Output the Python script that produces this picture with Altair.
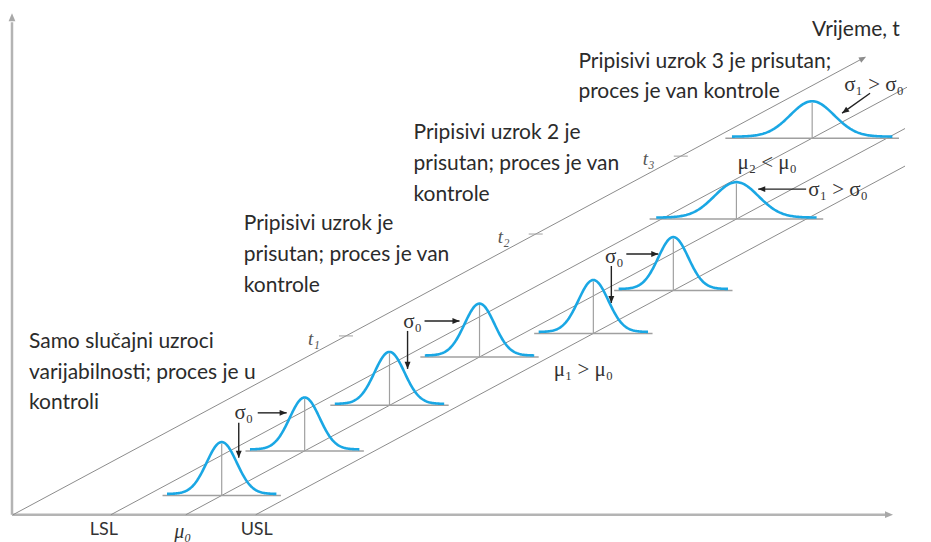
import altair as alt
import numpy as np
import pandas as pd

# ---------------- oblique "time" diagram geometry ----------------
BASE_Y = 515          # horizontal (quality) axis level
SLOPE = 0.537         # rise of the time direction per unit of x

# process levels on the quality axis (origin, LSL, mu0, USL)
level_names = ["", "LSL", "μ₀", "USL"]
level_x = [12, 110, 185, 255]
level_end_x = [865, 907, 905, 905]

# distributions along time: level, time (rise), sigma
curve_level = [185, 185, 185, 185, 255, 255, 185, 110]
curve_time = [19.3, 63.9, 109.5, 157.9, 181.5, 224.5, 296.0, 377.0]
curve_sigma = [15, 15, 15, 15, 15, 15, 22, 22]
AREA = 780

# time instants t1, t2, t3 (rise along time axis)
t_names = ["t₁", "t₂", "t₃"]
t_rise = [179, 281, 359]

# annotation texts
block_text = [
    "Vrijeme, t",
    "Pripisivi uzrok 3 je prisutan;", "proces je van kontrole",
    "Pripisivi uzrok 2 je", "prisutan; proces je van", "kontrole",
    "Pripisivi uzrok je", "prisutan; proces je van", "kontrole",
    "Samo slučajni uzroci", "varijabilnosti; proces je u", "kontroli",
]
block_x = [812, 578, 578, 413, 413, 413, 243, 243, 243, 28, 28, 28]
block_y = [30, 62, 92, 133, 164, 195, 224, 255, 286, 342, 373, 403]

greek_text = ["σ₁ > σ₀", "μ₂ < μ₀", "σ₁ > σ₀", "μ₁ > μ₀", "σ₀", "σ₀", "σ₀"]
greek_x = [874, 767, 838, 583, 243, 412, 614]
greek_y = [85, 163, 190, 370, 413, 322, 257]

# arrows: tail -> tip
arrow_x1 = [257, 238, 424, 407, 626, 611, 870, 806]
arrow_y1 = [413, 423, 321, 331, 254, 266, 93, 189]
arrow_x2 = [286, 238, 459, 407, 658, 611, 842, 758]
arrow_y2 = [413, 458, 321, 369, 254, 303, 113, 189]

# ---------------- helpers ----------------
W, H = 915, 526
xs = alt.Scale(domain=[8, 8 + W], nice=False, zero=False)
ys = alt.Scale(domain=[8, 8 + H], nice=False, zero=False, reverse=True)
X = lambda f="x": alt.X(f"{f}:Q", scale=xs, axis=None)
Y = lambda f="y": alt.Y(f"{f}:Q", scale=ys, axis=None)
HEAD = "M0,0L-1,-0.42L-1,0.42Z"


def to_xy(level, rise):
    return level + rise / SLOPE, BASE_Y - rise


def rules(df, color, width):
    return alt.Chart(df).mark_rule(color=color, strokeWidth=width, strokeCap="butt").encode(
        x=X(), y=Y(), x2="x2:Q", y2="y2:Q")


def heads(df, color, size):
    return alt.Chart(df).mark_point(shape=HEAD, filled=True, color=color, size=size,
                                    opacity=1, strokeWidth=0).encode(
        x=X(), y=Y(), angle=alt.Angle("angle:Q", scale=None))


def texts(df, font, size, color, align="left", style="normal"):
    return alt.Chart(df).mark_text(font=font, fontSize=size, color=color, align=align,
                                   baseline="middle", fontStyle=style).encode(
        x=X(), y=Y(), text="t:N")


# axes
axes = pd.DataFrame({"x": [11, 11], "y": [515, 515], "x2": [11, 885], "y2": [22, 515]})
axis_heads = pd.DataFrame({"x": [11, 893], "y": [13, 515], "angle": [270, 0]})

# diagonal level lines
diag = pd.DataFrame({
    "x": level_x, "y": [BASE_Y] * 4, "x2": level_end_x,
    "y2": [BASE_Y - (e - s) * SLOPE for s, e in zip(level_x, level_end_x)]})
diag_head = pd.DataFrame({"x": [level_end_x[0] + 1],
                          "y": [BASE_Y - (level_end_x[0] - level_x[0]) * SLOPE - 0.5],
                          "angle": [360 - np.degrees(np.arctan(SLOPE))]})

# time ticks and labels
tx, ty = zip(*[to_xy(level_x[0], r) for r in t_rise])
ticks = pd.DataFrame({"x": np.array(tx) - 7, "x2": np.array(tx) + 7, "y": ty, "y2": ty})
tlab = pd.DataFrame({"x": np.array(tx) - 38, "y": np.array(ty) + 3, "t": t_names})

# distributions
base_rows, cent_rows, curve_rows = [], [], []
z = np.linspace(-3.65, 3.65, 150)
for i, (lv, tr, sg) in enumerate(zip(curve_level, curve_time, curve_sigma)):
    cx, by = to_xy(lv, tr)
    h = AREA / sg
    base_rows.append({"x": cx - 3.95 * sg, "x2": cx + 3.95 * sg, "y": by, "y2": by})
    cent_rows.append({"x": cx, "x2": cx, "y": by, "y2": by - h})
    for k, zz in enumerate(z):
        curve_rows.append({"id": i, "k": k, "x": cx + sg * zz,
                           "y": by - h * np.exp(-zz * zz / 2) - 1.5})
base = pd.DataFrame(base_rows)
cent = pd.DataFrame(cent_rows)
curves = pd.DataFrame(curve_rows)

# arrows
arr = pd.DataFrame({"x": arrow_x1, "y": arrow_y1, "x2": arrow_x2, "y2": arrow_y2})
arr_heads = pd.DataFrame({
    "x": arrow_x2, "y": arrow_y2,
    "angle": [np.degrees(np.arctan2(b2 - b1, a2 - a1)) % 360
              for a1, b1, a2, b2 in zip(arrow_x1, arrow_y1, arrow_x2, arrow_y2)]})

# texts
blocks = pd.DataFrame({"x": block_x, "y": block_y, "t": block_text})
greek = pd.DataFrame({"x": greek_x, "y": greek_y, "t": greek_text})
lev_lab = pd.DataFrame({"x": [103, 256], "y": [530, 530], "t": [level_names[1], level_names[3]]})
mu_lab = pd.DataFrame({"x": [182], "y": [532], "t": [level_names[2]]})

GREY = "#8c8c8c"
layers = [
    rules(axes, "#b4b4b4", 2.5),
    heads(axis_heads, "#a8a8a8", 260),
    rules(diag, GREY, 1),
    heads(diag_head, GREY, 200),
    rules(ticks, "#a0a0a0", 1),
    rules(base, "#a0a0a0", 1.5),
    rules(cent, "#a0a0a0", 1.2),
    alt.Chart(curves).mark_line(color="#1aa7e4", strokeWidth=2.6).encode(
        x=X(), y=Y(), detail="id:N", order="k:Q"),
    rules(arr, "#222222", 1.4),
    heads(arr_heads, "#222222", 200),
    texts(blocks, "Lato", 21, "#2b2b2b"),
    texts(greek, "Liberation Serif", 21, "#333333", align="center"),
    texts(tlab, "Liberation Serif", 19, "#555555", style="italic"),
    texts(lev_lab, "Lato", 18, "#333333", align="center"),
    texts(mu_lab, "Liberation Serif", 20, "#333333", align="center", style="italic"),
]

chart = alt.layer(*layers).properties(width=W, height=H, padding=0,
                                      background="white").configure_view(stroke=None)
chart.save("out.html", embed_options={"renderer": "svg", "actions": False})
